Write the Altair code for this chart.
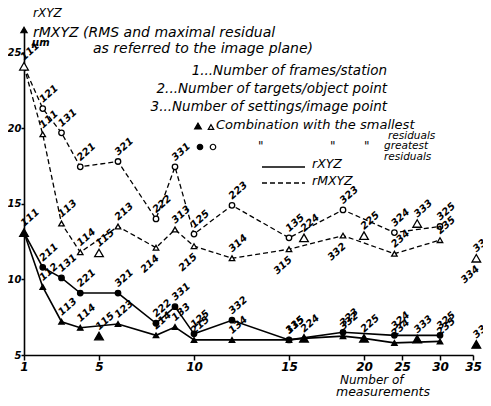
import altair as alt
import pandas as pd

FONT = "DejaVu Sans"

# ---- rXYZ (solid line), combination with greatest residuals (filled circles)
g_solid_x = [1, 2, 3, 4, 6, 8, 9, 10, 12, 15, 18.6, 24, 30]
g_solid_y = [13.1, 10.8, 10.1, 9.1, 9.1, 7.1, 8.2, 6.4, 7.3, 6.0, 6.5, 6.3, 6.3]
g_solid_lab = ["111", "211", "131", "221", "321", "222", "331", "125", "332", "135", "323", "324", "325"]

# ---- rXYZ (solid line), combination with smallest residuals (filled triangles)
s_solid_x = [1, 2, 3, 4, 6, 8, 9, 10, 12, 15, 16, 18.6, 20, 24, 30]
s_solid_y = [13.1, 9.5, 7.2, 6.8, 7.05, 6.3, 6.85, 6.0, 6.0, 6.0, 6.1, 6.25, 6.1, 5.8, 5.9]
s_solid_lab = ["111", "112", "113", "114", "123", "214", "133", "215", "134", "315", "224", "332", "225", "234", "235"]

# ---- rMXYZ (dashed line), greatest residuals (open circles)
g_dash_x = [1, 2, 3, 4, 6, 8, 9, 10, 12, 15, 18.6, 24, 30]
g_dash_y = [24.1, 21.3, 19.7, 17.45, 17.8, 14.0, 17.45, 13.0, 14.9, 12.75, 14.6, 13.1, 13.5]
g_dash_lab = ["111", "121", "131", "221", "321", "222", "331", "125", "223", "135", "323", "324", "325"]

# ---- rMXYZ (dashed line), smallest residuals (open triangles)
s_dash_x = [1, 2, 3, 4, 6, 8, 9, 10, 12, 15, 18.6, 24, 30]
s_dash_y = [24.1, 19.6, 13.7, 11.8, 13.5, 12.1, 13.3, 12.2, 11.4, 12.0, 12.9, 11.7, 12.6]
s_dash_lab = ["111", "111", "113", "114", "213", "214", "313", "215", "314", "315", "332", "234", "235"]
s_dash_below = ["214", "215", "315", "332"]

# ---- highlighted combinations (big triangles)
big_fill_x = [1, 5, 16, 20, 27, 35.5]
big_fill_y = [13.1, 6.25, 6.1, 6.1, 6.05, 5.7]
big_fill_lab = ["111", "115", "224", "225", "333", "334"]
big_open_x = [1, 5, 16, 20, 27, 35.5]
big_open_y = [24.1, 11.75, 12.75, 12.9, 13.7, 11.4]
big_open_lab = ["111", "115", "224", "225", "333", "334"]

x_ticks = [1, 5, 10, 15, 20, 25, 30, 35]
x_tick_px = [0, 75, 170, 265, 340, 378, 416, 449]
y_ticks = [5, 10, 15, 20, 25]

W, H = 459, 325

def df(xs, ys, labs):
    return pd.DataFrame({"x": xs, "y": ys, "lab": labs})

X = alt.X("x:Q", scale=alt.Scale(domain=x_ticks, range=x_tick_px, nice=False, zero=False),
          axis=alt.Axis(values=x_ticks, title=None, grid=False, labelFont=FONT,
                        labelFontStyle="italic", labelFontWeight="bold", labelFontSize=12,
                        tickSize=5, tickWidth=1.5, domainWidth=1.6, labelPadding=1,
                        domainColor="black", tickColor="black", labelColor="black",
                        labelFlush=False))
Y = alt.Y("y:Q", scale=alt.Scale(domain=[5, 26.5], nice=False, zero=False),
          axis=alt.Axis(values=y_ticks, title=None, grid=False, labelFont=FONT,
                        labelFontStyle="italic", labelFontWeight="bold", labelFontSize=10,
                        tickSize=3, tickWidth=1.5, domainWidth=1.6, labelPadding=0,
                        domainColor="black", tickColor="black", labelColor="black"))

d_gs = df(g_solid_x, g_solid_y, g_solid_lab)
d_ss = df(s_solid_x, s_solid_y, s_solid_lab)
d_gd = df(g_dash_x, g_dash_y, g_dash_lab)
d_sd = df(s_dash_x, s_dash_y, s_dash_lab)
d_bf = df(big_fill_x, big_fill_y, big_fill_lab)
d_bo = df(big_open_x, big_open_y, big_open_lab)

def line(d, dashed):
    kw = dict(color="black", strokeWidth=1.3 if dashed else 1.6)
    if dashed:
        kw["strokeDash"] = [5, 3]
    return alt.Chart(d).mark_line(**kw).encode(x=X, y=Y)

def pts(d, shape, filled, size):
    return alt.Chart(d).mark_point(shape=shape, filled=True, fill="black" if filled else "white",
                                   stroke="black", strokeWidth=1.3, size=size, opacity=1).encode(x=X, y=Y)

sd_above = d_sd[~d_sd["lab"].isin(s_dash_below)]
sd_below = d_sd[d_sd["lab"].isin(s_dash_below)]
lab_above = pd.concat([d_gs, d_ss, d_gd, sd_above, d_bf, d_bo]).drop_duplicates()
lab_below = pd.concat([sd_below, d_bo[d_bo["lab"] == "334"]])

labels_up = alt.Chart(lab_above).mark_text(angle=318, align="left", baseline="bottom", dx=4, dy=-2,
                                           fontSize=10, fontStyle="italic", fontWeight="bold",
                                           font=FONT, color="black").encode(x=X, y=Y, text="lab:N")
labels_dn = alt.Chart(lab_below).mark_text(angle=318, align="right", baseline="top", dx=-5, dy=3,
                                           fontSize=10, fontStyle="italic", fontWeight="bold",
                                           font=FONT, color="black").encode(x=X, y=Y, text="lab:N")

one = pd.DataFrame({"t": [""]})

def ann(text, x, y, size=13, align="left", weight="normal", baseline="middle"):
    return alt.Chart(pd.DataFrame({"t": [text]})).mark_text(
        align=align, baseline=baseline, fontSize=size, fontStyle="italic", fontWeight=weight,
        font=FONT, color="black").encode(x=alt.value(x), y=alt.value(y), text="t:N")

def sym(shape, filled, x, y, size=40):
    return alt.Chart(one).mark_point(shape=shape, filled=True, fill="black" if filled else "white",
                                     stroke="black", strokeWidth=1.2, size=size, opacity=1).encode(
        x=alt.value(x), y=alt.value(y))

annotations = [
    ann("rXYZ", 9, -17, 12),
    ann("rMXYZ (RMS and maximal residual", 9, 3, 14),
    ann("μm", 8, 13, 10, weight="bold"),
    ann("as referred to the image plane)", 69, 19, 14),
    ann("1...Number of frames/station", 363, 41, 13.5, align="right"),
    ann("2...Number of targets/object point", 363, 59, 13.5, align="right"),
    ann("3...Number of settings/image point", 363, 77, 13.5, align="right"),
    ann("Combination with the smallest", 192, 95, 13),
    ann("residuals", 364, 106, 10.5),
    ann("\"", 234, 116, 12), ann("\"", 306, 116, 12), ann("\"", 340, 116, 12),
    ann("greatest", 360, 116, 10.5),
    ann("residuals", 360, 127, 10.5),
    ann("rXYZ", 288, 134, 12.5),
    ann("rMXYZ", 288, 151, 12.5),
    ann("Number of", 316, 354, 12, baseline="alphabetic"),
    ann("measurements", 312, 366, 12.5, baseline="alphabetic"),
    sym("triangle-up", True, 174, 96, 45),
    sym("triangle-up", False, 187, 97, 30),
    sym("circle", True, 176, 117, 30),
    sym("circle", False, 189, 117, 30),
    sym("triangle-up", True, 0, 0, 40),
    alt.Chart(one).mark_rule(color="black", strokeWidth=1.6).encode(
        x=alt.value(238), x2=alt.value(281), y=alt.value(137)),
    alt.Chart(one).mark_rule(color="black", strokeWidth=1.3, strokeDash=[5, 3]).encode(
        x=alt.value(238), x2=alt.value(281), y=alt.value(153)),
]

chart = alt.layer(
    line(d_gd, True), line(d_sd, True), line(d_gs, False), line(d_ss, False),
    pts(d_gd.iloc[1:], "circle", False, 30), pts(d_sd.iloc[1:], "triangle-up", False, 30),
    pts(d_gs.iloc[1:], "circle", True, 30), pts(d_ss.iloc[1:], "triangle-up", True, 30),
    pts(d_bo, "triangle-up", False, 75), pts(d_bf, "triangle-up", True, 75),
    labels_up, labels_dn,
    *annotations,
).properties(
    width=W, height=H,
    autosize=alt.AutoSizeParams(type="none"),
    padding={"left": 16, "top": 22, "right": 0, "bottom": 41},
    background="white",
).configure_view(stroke=None)

chart.save("out.html", embed_options={"renderer": "svg", "actions": False})
